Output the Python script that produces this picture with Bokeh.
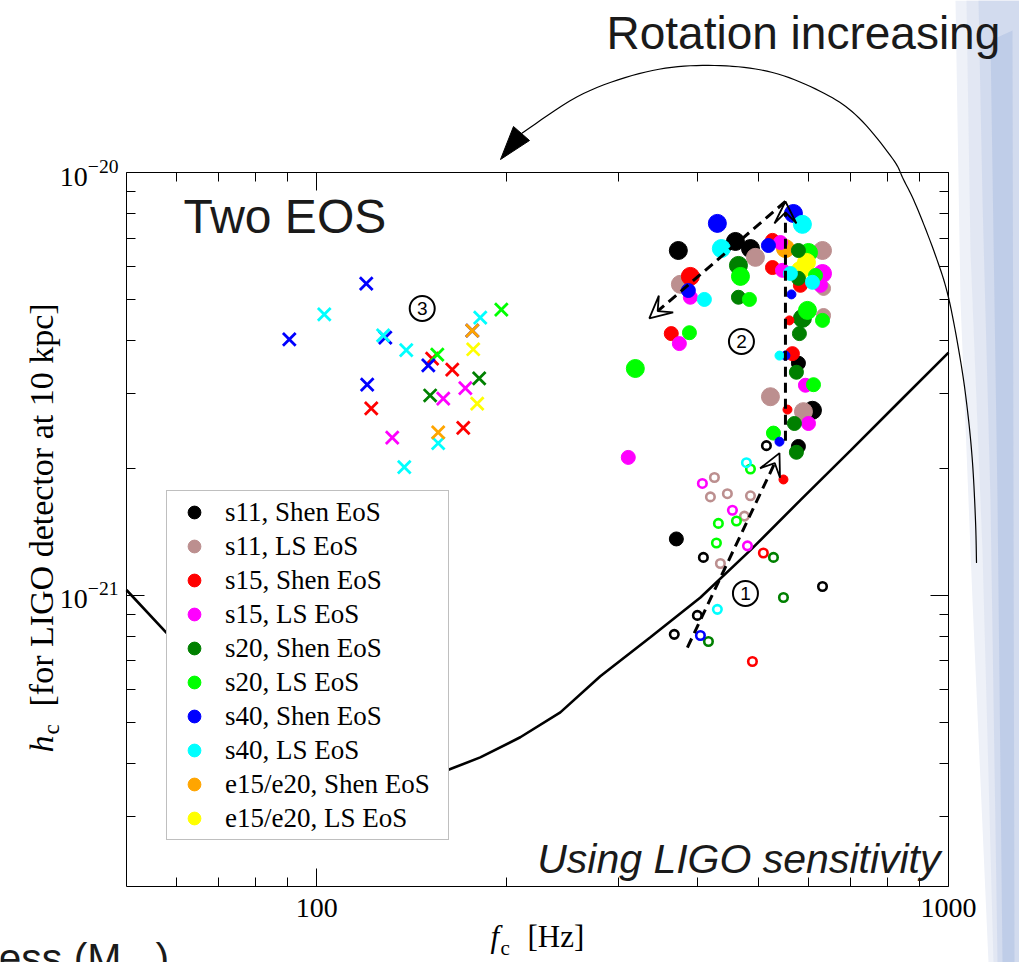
import math
from bokeh.plotting import figure
from bokeh.models import (ColumnDataSource, Range1d, LogAxis, FixedTicker, PrintfTickFormatter,
                          LogTickFormatter, CustomJSTickFormatter, Legend, LegendItem, Label,
                          Arrow, VeeHead, PolyAnnotation)
from bokeh.core.properties import value
from bokeh.embed import file_html
from bokeh.resources import INLINE

# ---------------- data ----------------
MODELS = ["s11, Shen EoS", "s11, LS EoS", "s15, Shen EoS", "s15, LS EoS", "s20, Shen EoS",
          "s20, LS EoS", "s40, Shen EoS", "s40, LS EoS", "e15/e20, Shen EoS", "e15/e20, LS EoS"]
COLORS = ["#000000", "#bc8f8f", "#ff0000", "#ff00ff", "#008000",
          "#00ff00", "#0000ff", "#00ffff", "#ffa500", "#ffff00"]

X_TICKS = [100, 1000]
X_MINOR = [60, 70, 80, 90, 200, 300, 400, 500, 600, 700, 800, 900]
Y_TICKS = [1e-21, 1e-20]
Y_MINOR = [3e-22, 4e-22, 5e-22, 6e-22, 7e-22, 8e-22, 9e-22,
           2e-21, 3e-21, 4e-21, 5e-21, 6e-21, 7e-21, 8e-21, 9e-21]

# region 3 (fast rotation): crosses
CROSS_MODEL = [6, 6, 6, 6, 6, 6, 7, 7, 7, 7, 7, 7, 5, 5, 8, 8, 9, 9, 2, 2, 2, 2, 4, 4, 3, 3, 3]
CROSS_F = [119.8, 90.5, 128.4, 176.3, 150.2, 120.2, 102.8, 127.4, 138.6, 181.5, 155.7, 137.6,
           196.0, 155.2, 176.3, 155.7, 176.9, 179.5, 152.3, 163.9, 122.0, 170.6, 180.8, 151.2,
           171.9, 158.6, 131.7]
CROSS_H = [5.46e-21, 4.03e-21, 4.07e-21, 4.23e-21, 3.50e-21, 3.15e-21, 4.62e-21, 4.12e-21,
           3.80e-21, 4.54e-21, 2.29e-21, 2.01e-21, 4.74e-21, 3.71e-21, 4.23e-21, 2.43e-21,
           3.82e-21, 2.84e-21, 3.63e-21, 3.42e-21, 2.77e-21, 2.49e-21, 3.26e-21, 2.97e-21,
           3.09e-21, 2.92e-21, 2.36e-21]

# region 1 (slow rotation): open circles
OPEN_MODEL = [0, 7, 5, 1, 3, 1, 1, 1, 3, 1, 5, 5, 5, 3, 0, 1, 2, 4, 0, 4, 7, 0, 0, 6, 4, 2]
OPEN_F = [515.0, 478.8, 485.9, 426.1, 407.8, 419.9, 446.7, 485.9, 455.0, 475.3, 432.3, 461.7,
          429.2, 480.6, 409.3, 435.5, 509.3, 528.4, 631.8, 548.0, 430.7, 400.4, 368.1, 404.9,
          416.9, 489.4]
OPEN_H = [2.26e-21, 2.06e-21, 1.99e-21, 1.90e-21, 1.84e-21, 1.71e-21, 1.74e-21, 1.72e-21,
          1.59e-21, 1.54e-21, 1.48e-21, 1.50e-21, 1.33e-21, 1.31e-21, 1.23e-21, 1.19e-21,
          1.26e-21, 1.23e-21, 1.05e-21, 9.89e-22, 9.27e-22, 8.97e-22, 8.09e-22, 8.04e-22,
          7.78e-22, 6.98e-22]

# region 2 (moderate rotation): filled circles, three marker classes
BIG_MODEL = [6, 0, 7, 0, 0, 1, 2, 1, 5, 4, 5, 6, 7, 8, 9, 9, 5, 1, 3, 1, 0, 5, 4, 1]
BIG_F = [430.7, 373.6, 437.0, 460.0, 485.9, 494.8, 390.3, 376.4, 319.4, 465.1, 468.5, 568.3,
         587.2, 552.0, 582.9, 595.9, 600.3, 631.8, 631.8, 589.4, 609.1, 598.1, 587.2, 522.6]
BIG_H = [7.58e-21, 6.54e-21, 6.61e-21, 6.87e-21, 6.61e-21, 6.30e-21, 5.68e-21, 5.44e-21,
         3.44e-21, 6.03e-21, 5.68e-21, 8.00e-21, 7.54e-21, 6.61e-21, 5.87e-21, 6.13e-21,
         6.47e-21, 6.54e-21, 5.77e-21, 2.72e-21, 2.74e-21, 4.72e-21, 4.52e-21, 2.95e-21]

MID_MODEL = [2, 3, 6, 4, 2, 3, 7, 4, 2, 5, 7, 3, 1, 5, 1, 6, 3, 7, 4, 5, 2, 5, 3, 2, 4, 0,
             4, 3, 5, 3, 5, 0, 4, 4, 3, 0]
MID_F = [526.5, 542.0, 518.8, 578.7, 526.5, 546.0, 562.1, 578.7, 582.9, 615.9, 609.1, 627.2,
         634.2, 631.8, 634.2, 387.5, 390.3, 410.8, 465.1, 484.1, 364.1, 389.0, 375.0, 566.2,
         580.8, 578.7, 574.5, 593.7, 611.4, 600.3, 528.4, 578.7, 574.5, 570.3, 311.3, 370.9]
MID_H = [6.91e-21, 6.83e-21, 6.72e-21, 6.54e-21, 5.96e-21, 5.87e-21, 5.77e-21, 5.62e-21,
         5.41e-21, 5.71e-21, 5.50e-21, 5.41e-21, 5.32e-21, 4.47e-21, 4.59e-21, 5.26e-21,
         5.07e-21, 5.01e-21, 5.07e-21, 5.01e-21, 4.16e-21, 4.18e-21, 3.94e-21, 3.73e-21,
         4.16e-21, 3.54e-21, 3.37e-21, 3.14e-21, 3.15e-21, 2.55e-21, 2.42e-21, 2.25e-21,
         2.18e-21, 2.55e-21, 2.12e-21, 1.36e-21]

SMALL_MODEL = [6, 2, 7, 6, 2, 6, 2]
SMALL_F = [564.2, 560.1, 540.1, 552.0, 556.1, 540.1, 548.0]
SMALL_H = [5.15e-21, 4.47e-21, 3.69e-21, 3.69e-21, 2.75e-21, 2.31e-21, 1.88e-21]

# LIGO sensitivity curve (h_c at 10 kpc)
SENS_F = [50, 57.8, 65.4, 78.5, 94.2, 113, 130.7, 145.8, 160.9, 181.5, 210, 243, 281.1,
          337.4, 404.9, 485.9, 582.9, 699.5, 839.5, 1000]
SENS_H = [1.03e-21, 8.17e-22, 6.87e-22, 5.46e-22, 4.54e-22, 3.96e-22, 3.69e-22, 3.69e-22,
          3.86e-22, 4.14e-22, 4.62e-22, 5.29e-22, 6.44e-22, 7.96e-22, 9.89e-22, 1.28e-21,
          1.68e-21, 2.20e-21, 2.89e-21, 3.75e-21]

# rotation-sequence arrows (start f, start h, end f, end h)
ARROW_F0 = [386.1, 552.0, 552.0]
ARROW_H0 = [7.53e-22, 2.32e-21, 8.54e-21]
ARROW_F1 = [540.1, 552.0, 336.1]
ARROW_H1 = [2.17e-21, 8.54e-21, 4.52e-21]

# circled region markers
REGION_TXT = ["1", "2", "3"]
REGION_F = [477.1, 470.2, 146.9]
REGION_H = [1.011e-21, 3.985e-21, 4.77e-21]

# ---------------- geometry (page pixels <-> data) ----------------
W, H = 1019, 962
IX0, IX1 = 50.0, 1000.0          # plotted f range
IY0, IY1 = 2.05e-22, 1.0e-20     # plotted h range
FL, FR, FT, FB = 126.0, 948.0, 172.0, 886.0   # where that box sits on the page
KX = (math.log10(IX1) - math.log10(IX0)) / (FR - FL)
KY = (math.log10(IY1) - math.log10(IY0)) / (FB - FT)


def dx(px):
    return 10 ** (math.log10(IX0) + (px - FL) * KX)


def dy(py):
    return 10 ** (math.log10(IY0) + (FB - py) * KY)


SERIF = "Liberation Serif"
SANS = "Liberation Sans"

p = figure(x_axis_type="log", y_axis_type="log",
           x_range=Range1d(dx(0), dx(W)), y_range=Range1d(dy(H), dy(0)),
           width=W, height=H,
           min_border_left=0, min_border_right=0, min_border_top=0, min_border_bottom=0,
           output_backend="svg", toolbar_location=None,
           background_fill_color="white", border_fill_color="white",
           outline_line_color=None)
p.grid.visible = False

# ---------------- decoration (slide background) ----------------
band_specs = [
    ([955, 1019, 1019, 988, 972, 960], [0, 0, 962, 962, 600, 300], "#eef1f8", 1.0),
    ([966, 1019, 1019, 993, 982, 970], [0, 0, 962, 962, 550, 250], "#e0e6f2", 0.9),
    ([978, 1019, 1019, 997, 990, 982], [0, 0, 962, 962, 500, 200], "#d0d9ed", 0.9),
    ([990, 1012, 1014, 1002, 997], [40, 30, 962, 962, 500], "#bccae6", 0.85),
]
for bx, by, bc, ba in band_specs:
    p.add_layout(PolyAnnotation(xs=[dx(v) for v in bx], ys=[dy(v) for v in by],
                                xs_units="data", ys_units="data",
                                fill_color=bc, fill_alpha=ba, line_color=None, level="underlay"))


def style_axis(ax, major, minor, fmt, fsize, loc, bounds):
    ax.ticker = FixedTicker(ticks=major, minor_ticks=minor)
    ax.formatter = fmt
    ax.fixed_location = loc
    ax.bounds = bounds
    ax.axis_line_color = "black"
    ax.axis_line_width = 1
    ax.major_tick_in = 18
    ax.major_tick_out = 0
    ax.minor_tick_in = 9
    ax.minor_tick_out = 0
    ax.major_tick_line_color = "black"
    ax.minor_tick_line_color = "black"
    ax.major_label_text_font = SERIF
    ax.major_label_text_font_size = fsize
    ax.major_label_text_color = "black"


style_axis(p.xaxis[0], X_TICKS, X_MINOR, PrintfTickFormatter(format="%d"), "28px",
           IY0, (IX0, IX1))
p.xaxis[0].major_label_standoff = 12
style_axis(p.yaxis[0], Y_TICKS, Y_MINOR, LogTickFormatter(), "28px", IX0, (IY0, IY1))
p.yaxis[0].major_label_standoff = 8

top_ax = LogAxis()
style_axis(top_ax, X_TICKS, X_MINOR, CustomJSTickFormatter(code="return ''"), "1px",
           IY1, (IX0, IX1))
p.add_layout(top_ax, "above")
right_ax = LogAxis()
style_axis(right_ax, Y_TICKS, Y_MINOR, CustomJSTickFormatter(code="return ''"), "1px",
           IX1, (IY0, IY1))
p.add_layout(right_ax, "right")

# ---------------- glyphs ----------------
p.line(SENS_F, SENS_H, line_color="black", line_width=2.6)


def make_src(models, fs, hs):
    order = sorted(range(len(models)), key=lambda i: models[i])
    return ColumnDataSource(dict(f=[fs[i] for i in order], h=[hs[i] for i in order],
                                 color=[COLORS[models[i]] for i in order]))


p.scatter("f", "h", source=make_src(BIG_MODEL, BIG_F, BIG_H), marker="circle", size=18,
          fill_color="color", line_color="color", line_width=1)
p.scatter("f", "h", source=make_src(MID_MODEL, MID_F, MID_H), marker="circle", size=14,
          fill_color="color", line_color="color", line_width=1)
p.scatter("f", "h", source=make_src(SMALL_MODEL, SMALL_F, SMALL_H), marker="circle", size=9,
          fill_color="color", line_color="color", line_width=1)
p.scatter("f", "h", source=make_src(OPEN_MODEL, OPEN_F, OPEN_H), marker="circle", size=8.5,
          fill_color=None, line_color="color", line_width=2.6)
p.scatter("f", "h", source=make_src(CROSS_MODEL, CROSS_F, CROSS_H), marker="x", size=18,
          line_color="color", line_width=2.8)

# region markers (circled numbers)
p.scatter(REGION_F, REGION_H, marker="circle", size=25, fill_color="white",
          line_color="black", line_width=2)
p.text(REGION_F, REGION_H, text=REGION_TXT, text_align="center", text_baseline="middle",
       text_font=value(SANS), text_font_size="19px", text_color="black")

# dashed arrows
for f0, h0, f1, h1 in zip(ARROW_F0, ARROW_H0, ARROW_F1, ARROW_H1):
    p.add_layout(Arrow(x_start=f0, y_start=h0, x_end=f1, y_end=h1,
                       line_color="black", line_width=3, line_dash="10 6",
                       end=VeeHead(size=22, fill_alpha=0, line_color="black", line_width=1.8)))

# legend (legend-only renderer, no positions of its own)
nan = float("nan")
leg_src = ColumnDataSource(dict(f=[nan] * len(MODELS), h=[nan] * len(MODELS), color=COLORS))
leg_r = p.scatter("f", "h", source=leg_src, marker="circle", fill_color="color",
                  line_color="color")
legend = Legend(items=[LegendItem(label=MODELS[i], renderers=[leg_r], index=i)
                       for i in range(len(MODELS))],
                location=(166, H - 840), margin=0, padding=5, spacing=2,
                glyph_width=44, glyph_height=32, label_height=32, label_standoff=9,
                label_width=218,
                label_text_font=SERIF, label_text_font_size="27px", label_text_color="black",
                border_line_color="#7f7f7f", border_line_width=1.5,
                background_fill_color="white", background_fill_alpha=1)
p.add_layout(legend)


# ---------------- texts ----------------
def lab(px, py, text, size, font=SANS, style="normal", align="left", angle=0, color="black"):
    # px, py: intended alphabetic baseline position on the page
    shift = 0.33 * size
    if angle == 0:
        py -= shift
    else:
        px -= shift
    p.add_layout(Label(x=dx(px), y=dy(py), text=text, text_font=font,
                       text_font_size=f"{size}px", text_font_style=style, text_align=align,
                       text_baseline="alphabetic", angle=angle, text_color=color))


lab(183, 232, "Two EOS", 48, color="#1a1a1a")
lab(940, 872, "Using LIGO sensitivity", 41, style="italic", align="right", color="#1a1a1a")
lab(606, 48, "Rotation increasing", 46, color="#1a1a1a")

# axis titles
lab(490, 946, "f", 31, font=SERIF, style="italic")
lab(500, 954, "c", 21, font=SERIF)
lab(527, 946, "[Hz]", 31, font=SERIF)
lab(52, 752, "h", 34, font=SERIF, style="italic", angle=math.pi / 2)
lab(59, 734, "c", 23, font=SERIF, angle=math.pi / 2)
lab(52, 706, "[for LIGO detector at 10 kpc]", 34, font=SERIF, angle=math.pi / 2)

# slide fragment at bottom-left
lab(-2, 971, "ess (M", 41, color="#1a1a1a")
lab(130, 992, "\u2299", 26, color="#1a1a1a")
lab(155, 971, ")", 41, color="#1a1a1a")


# curved "rotation increasing" arrow (smooth path through guide points)
def smooth(pts, n=10):
    P = [pts[0]] + pts + [pts[-1]]
    out = []
    for i in range(1, len(P) - 2):
        p0, p1, p2, p3 = P[i - 1], P[i], P[i + 1], P[i + 2]
        for k in range(n):
            t = k / n
            out.append(tuple(0.5 * (2 * p1[j] + (p2[j] - p0[j]) * t
                                    + (2 * p0[j] - 5 * p1[j] + 4 * p2[j] - p3[j]) * t * t
                                    + (3 * p1[j] - p0[j] - 3 * p2[j] + p3[j]) * t ** 3)
                             for j in range(2)))
    out.append(pts[-1])
    return out


CURVE_PX = [(976, 562), (975, 520), (972, 462), (967, 410), (960, 360), (948, 297), (935, 255),
            (916, 206), (903, 179), (892, 158), (858, 117), (824, 93), (772, 72), (714, 65),
            (652, 70), (583, 93), (521, 133)]
sp = smooth(CURVE_PX)
path = sp + sp[-2:0:-1]
p.add_layout(PolyAnnotation(xs=[dx(a) for a, b in path], ys=[dy(b) for a, b in path],
                            xs_units="data", ys_units="data", fill_color=None,
                            line_color="black", line_alpha=1.0, line_width=1.2,
                            line_join="round"))
HEAD_PX = [(500, 159), (513, 126), (529, 140)]
p.add_layout(PolyAnnotation(xs=[dx(a) for a, b in HEAD_PX], ys=[dy(b) for a, b in HEAD_PX],
                            xs_units="data", ys_units="data", fill_color="black", fill_alpha=1,
                            line_color="black", line_alpha=1.0, line_width=1))

open("out.html", "w").write(file_html(p, INLINE))
